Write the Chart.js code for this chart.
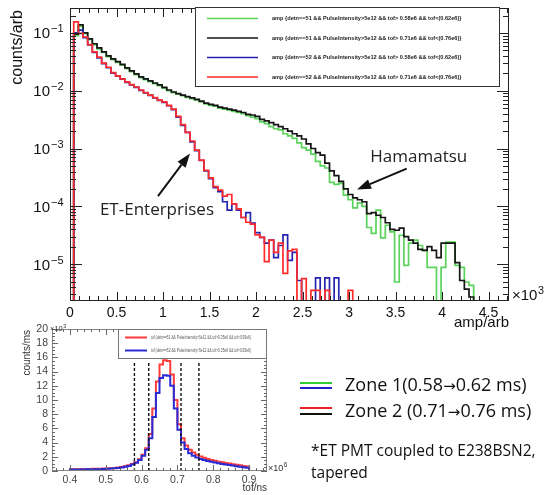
<!DOCTYPE html>
<html>
<head>
<meta charset="utf-8">
<title>PMT amplitude spectra</title>
<script src="https://cdn.jsdelivr.net/npm/chart.js@4.4.1/dist/chart.umd.min.js"></script>
<style>
  html, body { margin: 0; padding: 0; background: #fff; }
  body { position: relative; width: 549px; height: 495px; overflow: hidden; }
  canvas { position: absolute; left: 0; }
  #ampChart { top: 0; }
  #tofChart { top: 318px; }
  .key { position: absolute; left: 300px; width: 32px; height: 0; border-top: 2px solid; }
  .txt { position: absolute; font-family: "Open Sans", sans-serif; color: #111; white-space: nowrap; }
  .zone { left: 345px; font-size: 18px; line-height: 20px; }
  .arr { font-family: "DejaVu Sans", sans-serif; font-size: 15px; }
  .note { left: 311px; top: 439px; font-size: 15.5px; line-height: 22px; }
</style>
</head>
<body>
<canvas id="ampChart" width="549" height="332"></canvas>
<canvas id="tofChart" width="290" height="177"></canvas>
<div class="key" style="top:382px;border-color:#33cc33"></div>
<div class="key" style="top:387px;border-color:#2222cc"></div>
<div class="txt zone" style="top:374px">Zone 1(0.58<span class="arr">→</span>0.62 ms)</div>
<div class="key" style="top:407px;border-color:#ee2222"></div>
<div class="key" style="top:413px;border-color:#111"></div>
<div class="txt zone" style="top:400px">Zone 2 (0.71<span class="arr">→</span>0.76 ms)</div>
<div class="txt note">*ET PMT coupled to E238BSN2,<br>tapered</div>
<script>
// amp histograms, x in units of 10^3 arb (bin edges)
const ampEdges = [0.04,0.09,0.14,0.19,0.24,0.29,0.34,0.39,0.44,0.49,0.54,0.59,0.64,0.69,0.74,0.79,0.84,0.89,0.94,0.99,
  1.04,1.09,1.14,1.19,1.24,1.29,1.34,1.39,1.44,1.49,1.54,1.59,1.64,1.69,1.74,1.79,1.84,1.89,1.94,1.99,
  2.04,2.09,2.14,2.19,2.24,2.29,2.34,2.39,2.44,2.49,2.54,2.59,2.64,2.69,2.74,2.79,2.84,2.89,2.94,2.99,
  3.04,3.09,3.14,3.19,3.24,3.29,3.34,3.39,3.44,3.49,3.54,3.59,3.64,3.69,3.74,3.79,3.84,3.89,3.94,3.99,
  4.04,4.09,4.14,4.19,4.24,4.29,4.34,4.39,4.44,4.49,4.54,4.59,4.64,4.69,4.74];

// detn==51 (Hamamatsu), zone 1 -> green
const hamZone1 = [0.09,0.13,0.097,0.077,0.063,0.053,0.046,0.039,0.0345,0.031,
  0.0278,0.0242,0.0214,0.019,0.0169,0.0156,0.0144,0.0133,0.0123,0.0111,
  0.01,0.0093,0.0087,0.0082,0.0077,0.0073,0.0069,0.0064,0.0059,0.0056,
  0.0054,0.005,0.0048,0.0046,0.0044,0.0042,0.004,0.0037,0.0035,0.0033,
  0.0029,0.0027,0.0024,0.0022,0.0021,0.0018,0.00165,0.0015,0.00125,0.00104,
  0.00094,0.0008,0.0006,0.0005,0.00046,0.00026,0.00024,0.00025,0.000156,0.00013,
  9.4e-5,0.000115,0.0001,4.3e-5,3.4e-5,8.6e-5,2.85e-5,4.7e-5,3.6e-5,4.9e-6,
  3.16e-5,9.5e-6,2.3e-5,2.6e-5,2.1e-5,1.73e-5,8.8e-6,8.8e-6,0,8.8e-6,
  2.4e-5,2.4e-5,9.5e-6,8.8e-6,4.9e-6,4.3e-6,0,0,0,0,0,0,0];
// detn==51 (Hamamatsu), zone 2 -> black
const hamZone2 = [0.095,0.138,0.1,0.079,0.065,0.055,0.047,0.04,0.0355,0.032,
  0.0285,0.0248,0.022,0.0195,0.0173,0.016,0.0148,0.0136,0.0126,0.0114,
  0.0103,0.0095,0.0089,0.0084,0.0079,0.0075,0.0071,0.0066,0.0061,0.0058,
  0.0056,0.0052,0.005,0.0048,0.0046,0.0044,0.0042,0.0039,0.0038,0.0036,
  0.0032,0.003,0.0028,0.0026,0.0024,0.0022,0.002,0.0018,0.00165,0.00146,
  0.0012,0.001,0.00085,0.00077,0.00056,0.00041,0.00034,0.00027,0.0002,0.00016,
  0.00014,0.00013,0.00012,7.5e-5,7.8e-5,7.0e-5,6.4e-5,5.2e-5,4.0e-5,3.85e-5,
  4.2e-5,3.0e-5,2.6e-5,2.3e-5,1.8e-5,1.73e-5,2.0e-5,1.73e-5,1.3e-5,2.3e-5,
  2.3e-5,2.3e-5,1.06e-5,5.2e-6,3.7e-6,2.7e-6,0,0,0,0,0,0,0];
// detn==52 (ET Enterprises), zone 1 -> blue
const etZone1 = [0.1,0.112,0.083,0.062,0.046,0.037,0.0295,0.025,0.0202,0.0178,
  0.0158,0.014,0.0126,0.0114,0.0101,0.0092,0.0083,0.0075,0.0068,0.0063,
  0.0055,0.0047,0.0035,0.0025,0.0019,0.0013,0.00092,0.00062,0.00041,0.0003,
  0.00021,0.00018,0.00012,8.6e-5,0.00011,8.6e-5,6.4e-5,7.8e-5,5.1e-5,3.5e-5,
  2.9e-5,2.3e-5,2.6e-5,1.3e-5,2.1e-5,3.2e-5,1.16e-5,1.6e-5,5.2e-6,0,
  0,0,5.8e-6,0,5.8e-6,0,5.8e-6,0];
// detn==52 (ET Enterprises), zone 2 -> red
const etZone2 = [0.155,0.098,0.085,0.063,0.047,0.038,0.03,0.0255,0.0205,0.018,
  0.016,0.0142,0.0128,0.0116,0.0103,0.0093,0.0084,0.0076,0.0069,0.0064,
  0.0056,0.0048,0.0036,0.0026,0.0019,0.00135,0.00094,0.00063,0.00042,0.00031,
  0.00022,0.00019,0.00015,0.00016,0.00011,9e-5,6.4e-5,5.3e-5,4.9e-5,3.2e-5,
  2.9e-5,1.1e-5,2.6e-5,1.6e-5,2.3e-5,6.9e-6,1.7e-5,1.8e-5,0,5.6e-6,
  0,3.5e-6,3.5e-6,0,3.5e-6,0,0,0,0,3.5e-6,
  0,0,0,0,0];

const ampTicks = [0, 0.5, 1, 1.5, 2, 2.5, 3, 3.5, 4, 4.5];
const ampDecades = [-5, -4, -3, -2, -1];
const AMP_MIN = 2.3e-6, AMP_MAX = 0.27;
const ampLegend = [
  'amp {detn==51 && PulseIntensity>5e12 && tof> 0.58e6 && tof<(0.62e6)}',
  'amp {detn==51 && PulseIntensity>5e12 && tof> 0.71e6 && tof<(0.76e6)}',
  'amp {detn==52 && PulseIntensity>5e12 && tof> 0.58e6 && tof<(0.62e6)}',
  'amp {detn==52 && PulseIntensity>5e12 && tof> 0.71e6 && tof<(0.76e6)}'
];
const ampNotes = [
  { text: 'ET-Enterprises', x: 0.935, y: 8.5e-5, from: [0.946, 1.5e-4], to: [1.29, 8.2e-4] },
  { text: 'Hamamatsu', x: 3.75, y: 7.0e-4, from: [3.62, 4.5e-4], to: [3.086, 1.95e-4] }
];

// tof histograms, x in units of 10^6 ns, y in units of 10^3 counts/ms
const tofEdges = [0.35,0.40,0.41,0.42,0.43,0.44,0.45,0.46,0.47,0.48,0.49,
  0.50,0.51,0.52,0.53,0.54,0.55,0.56,0.57,0.58,0.59,
  0.60,0.61,0.62,0.63,0.64,0.65,0.66,0.67,0.68,0.69,
  0.70,0.71,0.72,0.73,0.74,0.75,0.76,0.77,0.78,0.79,
  0.80,0.81,0.82,0.83,0.84,0.85,0.86,0.87,0.88,0.89,0.90,0.95];
const tofDet51 = [0, 0.25,0.25,0.26,0.27,0.28,0.29,0.3,0.31,0.32,0.34,
  0.36,0.39,0.43,0.5,0.58,0.68,0.8,0.98,1.25,1.65,
  2.3,3.2,5.2,8.8,12.6,15.0,15.6,15.5,13.6,10.0,
  6.6,4.6,3.6,3.0,2.6,2.3,2.05,1.85,1.7,1.56,
  1.44,1.32,1.22,1.12,1.04,0.96,0.88,0.8,0.72,0.65, 0];
const tofDet52 = [0, 0.2,0.2,0.21,0.22,0.23,0.24,0.25,0.26,0.27,0.29,
  0.31,0.34,0.38,0.43,0.5,0.6,0.72,0.9,1.15,1.55,
  2.15,3.0,4.6,7.6,11.0,13.1,13.5,13.4,12.0,8.8,
  5.8,4.0,3.1,2.5,2.15,1.9,1.7,1.55,1.42,1.3,
  1.2,1.1,1.0,0.92,0.84,0.76,0.68,0.6,0.52,0.45, 0];
const tofTicks = [0.4, 0.5, 0.6, 0.7, 0.8, 0.9];
const countTicks = [0, 2, 4, 6, 8, 10, 12, 14, 16, 18, 20];
const zoneCuts = [0.58, 0.62, 0.71, 0.76];
const cutHeight = 15.4;
const tofLegend = [
  'tof {detn==51 && PulseIntensity>5e12 && tof>0.35e6 && tof<0.95e6}',
  'tof {detn==52 && PulseIntensity>5e12 && tof>0.35e6 && tof<0.95e6}'
];

const SANS = '"Liberation Sans", Arial, sans-serif';

function histPoints(edges, counts, floor) {
  const pts = [{ x: edges[0], y: floor }];
  counts.forEach((c, i) => pts.push({ x: edges[i], y: c > 0 ? c : floor }));
  const last = counts[counts.length - 1];
  pts.push({ x: edges[counts.length], y: last > 0 ? last : floor });
  return pts;
}

function seg(ctx, x0, y0, x1, y1) {
  ctx.beginPath(); ctx.moveTo(x0, y0); ctx.lineTo(x1, y1); ctx.stroke();
}

function arrow(ctx, x0, y0, x1, y1) {
  const ang = Math.atan2(y1 - y0, x1 - x0), head = 14, half = 5;
  const bx = x1 - head * Math.cos(ang), by = y1 - head * Math.sin(ang);
  seg(ctx, x0, y0, bx, by);
  ctx.beginPath();
  ctx.moveTo(x1, y1);
  ctx.lineTo(bx + half * Math.sin(ang), by - half * Math.cos(ang));
  ctx.lineTo(bx - half * Math.sin(ang), by + half * Math.cos(ang));
  ctx.closePath(); ctx.fill();
}

// "10" with a raised exponent, like ROOT prints it
function powerText(ctx, base, exp, x, y, size, align) {
  ctx.font = size + 'px ' + SANS;
  const wb = ctx.measureText(base).width;
  ctx.font = (size * 0.72) + 'px ' + SANS;
  const we = ctx.measureText(exp).width;
  let x0 = align === 'right' ? x - wb : x;
  ctx.textAlign = 'left';
  ctx.font = size + 'px ' + SANS;
  ctx.fillText(base, x0, y);
  ctx.font = (size * 0.72) + 'px ' + SANS;
  ctx.fillText(exp, x0 + wb + 0.5, y - size * 0.42);
  return wb + we;
}

const ampDecor = {
  id: 'ampDecor',
  afterDraw(chart) {
    const { ctx, chartArea: a, scales: { x, y } } = chart;
    ctx.save();
    ctx.strokeStyle = '#222'; ctx.fillStyle = '#111'; ctx.lineWidth = 1;
    ctx.strokeRect(a.left + 0.5, a.top + 0.5, a.right - a.left - 1, a.bottom - a.top - 1);

    // x tick marks, inside the frame
    for (let i = 0; i <= 47; i++) {
      const px = Math.round(x.getPixelForValue(i / 10)) + 0.5;
      if (px > a.right) break;
      const len = i % 5 === 0 ? 9 : 5;
      seg(ctx, px, a.bottom, px, a.bottom - len);
      seg(ctx, px, a.top, px, a.top + len);
    }
    // y tick marks, log spaced
    for (let e = -6; e <= -1; e++) {
      for (let m = 1; m <= 9; m++) {
        const v = m * Math.pow(10, e);
        if (v < AMP_MIN || v > AMP_MAX) continue;
        const py = Math.round(y.getPixelForValue(v)) + 0.5;
        const len = m === 1 ? 12 : 6;
        seg(ctx, a.left, py, a.left + len, py);
        seg(ctx, a.right, py, a.right - len, py);
      }
    }
    // y labels 10^n
    ctx.textBaseline = 'alphabetic';
    ampDecades.forEach(e => {
      const py = y.getPixelForValue(Math.pow(10, e));
      ctx.font = '15px ' + SANS; ctx.textAlign = 'right';
      ctx.fillText('10', 50, py + 5.5);
      ctx.font = '11px ' + SANS; ctx.textAlign = 'left';
      ctx.fillText('\u2212' + (-e), 51, py - 0.5);
    });
    // x multiplier and axis titles
    powerText(ctx, '\u00d710', '3', a.right + 3, a.bottom - 1, 15, 'left');
    ctx.font = '15px ' + SANS; ctx.textAlign = 'right';
    ctx.fillText('amp/arb', a.right, a.bottom + 26);
    ctx.save();
    ctx.translate(18, a.top + 2);
    ctx.rotate(-Math.PI / 2);
    ctx.font = '16px ' + SANS; ctx.textAlign = 'right'; ctx.textBaseline = 'middle';
    ctx.fillText('counts/arb', 0, 0);
    ctx.restore();

    // legend box
    const lx = 195.5, ly = a.top - 0.5, lw = 304, lh = 79;
    ctx.fillStyle = '#fff'; ctx.fillRect(lx, ly, lw, lh);
    ctx.strokeStyle = '#333'; ctx.strokeRect(lx, ly, lw, lh);
    ctx.font = 'bold 5.6px ' + SANS; ctx.textAlign = 'left'; ctx.textBaseline = 'middle';
    chart.data.datasets.forEach((ds, i) => {
      const ry = ly + 11 + i * 19.5;
      ctx.strokeStyle = ds.borderColor; ctx.lineWidth = 1.6;
      seg(ctx, 207, ry, 258, ry);
      ctx.fillStyle = '#222';
      ctx.fillText(ampLegend[i], 272, ry, 211);
    });

    // annotations
    ctx.strokeStyle = '#111'; ctx.fillStyle = '#111'; ctx.lineWidth = 2;
    ampNotes.forEach(n => {
      arrow(ctx, x.getPixelForValue(n.from[0]), y.getPixelForValue(n.from[1]),
                 x.getPixelForValue(n.to[0]), y.getPixelForValue(n.to[1]));
      ctx.font = '17px "Open Sans", sans-serif'; ctx.textAlign = 'center'; ctx.textBaseline = 'middle';
      ctx.fillStyle = '#222';
      ctx.fillText(n.text, x.getPixelForValue(n.x), y.getPixelForValue(n.y));
      ctx.fillStyle = '#111';
    });
    ctx.restore();
  }
};

const tofDecor = {
  id: 'tofDecor',
  afterDraw(chart) {
    const { ctx, chartArea: a, scales: { x, y } } = chart;
    ctx.save();
    ctx.strokeStyle = '#888'; ctx.fillStyle = '#333'; ctx.lineWidth = 1;
    ctx.strokeRect(a.left + 0.5, a.top + 0.5, a.right - a.left - 1, a.bottom - a.top - 1);
    ctx.strokeStyle = '#666';
    for (let i = 0; i <= 40; i++) {
      const py = Math.round(y.getPixelForValue(i * 0.5)) + 0.5;
      const len = i % 4 === 0 ? 6 : 3;
      seg(ctx, a.left, py, a.left + len, py);
      seg(ctx, a.right, py, a.right - len, py);
    }
    for (let i = 36; i <= 94; i += 2) {
      const px = Math.round(x.getPixelForValue(i / 100)) + 0.5;
      const len = i % 10 === 0 ? 6 : 3;
      seg(ctx, px, a.bottom, px, a.bottom - len);
      seg(ctx, px, a.top, px, a.top + len);
    }
    ctx.textBaseline = 'alphabetic';
    powerText(ctx, '\u00d710', '3', a.left - 2, a.top + 2, 7.5, 'left');
    powerText(ctx, '\u00d710', '6', a.right + 1, a.bottom, 9, 'left');
    ctx.font = '10px ' + SANS; ctx.textAlign = 'right';
    ctx.fillText('tof/ns', a.right, a.bottom + 20);
    ctx.save();
    ctx.translate(27, a.top + 1);
    ctx.rotate(-Math.PI / 2);
    ctx.font = '10px ' + SANS; ctx.textAlign = 'right'; ctx.textBaseline = 'middle';
    ctx.fillText('counts/ms', 0, 0);
    ctx.restore();

    // legend box
    const lx = 118.5, ly = a.top + 0.5, lw = a.right - 0.5 - lx, lh = 29;
    ctx.fillStyle = '#fff'; ctx.fillRect(lx, ly, lw, lh);
    ctx.strokeStyle = '#777'; ctx.strokeRect(lx, ly, lw, lh);
    ctx.font = '4.5px ' + SANS; ctx.textAlign = 'left'; ctx.textBaseline = 'middle';
    [0, 1].forEach(i => {
      const ds = chart.data.datasets[i];
      const ry = ly + 8 + i * 13;
      ctx.strokeStyle = ds.borderColor; ctx.lineWidth = 2;
      seg(ctx, 125, ry, 147, ry);
      ctx.fillStyle = '#555';
      ctx.fillText(tofLegend[i], 151, ry, 100);
    });
    ctx.restore();
  }
};

const stepStyle = { borderWidth: 1.7, pointRadius: 0, stepped: 'before', fill: false, tension: 0 };

new Chart(document.getElementById('ampChart'), {
  type: 'line',
  data: {
    datasets: [
      { label: ampLegend[0], data: histPoints(ampEdges, hamZone1, AMP_MIN), borderColor: '#5ad35a', order: 3 },
      { label: ampLegend[1], data: histPoints(ampEdges, hamZone2, AMP_MIN), borderColor: '#151515', order: 2 },
      { label: ampLegend[2], data: histPoints(ampEdges, etZone1, AMP_MIN), borderColor: '#2424b0', order: 1 },
      { label: ampLegend[3], data: histPoints(ampEdges, etZone2, AMP_MIN), borderColor: '#ff2a2a', order: 0 }
    ].map(d => Object.assign({}, stepStyle, d))
  },
  options: {
    responsive: false, animation: false, devicePixelRatio: 1, events: [],
    layout: { padding: { top: 8, right: 40, left: 0, bottom: 0 } },
    plugins: { legend: { display: false }, tooltip: { enabled: false } },
    scales: {
      x: {
        type: 'linear', min: 0, max: 4.72,
        grid: { display: false, drawTicks: false }, border: { display: false },
        afterBuildTicks: s => { s.ticks = ampTicks.map(v => ({ value: v })); },
        afterFit: s => { s.height = 31; },
        ticks: { font: { family: SANS, size: 14 }, color: '#111', padding: 4, maxRotation: 0, autoSkip: false,
                 callback: v => String(v) }
      },
      y: {
        type: 'logarithmic', min: AMP_MIN, max: AMP_MAX,
        grid: { display: false }, border: { display: false }, ticks: { display: false },
        afterFit: s => { s.width = 70; }
      }
    }
  },
  plugins: [ampDecor]
});

new Chart(document.getElementById('tofChart'), {
  type: 'line',
  data: {
    datasets: [
      Object.assign({}, stepStyle, { label: tofLegend[0], data: histPoints(tofEdges, tofDet51, 0), borderColor: '#ff3b3b', borderWidth: 2, order: 2 }),
      Object.assign({}, stepStyle, { label: tofLegend[1], data: histPoints(tofEdges, tofDet52, 0), borderColor: '#2b2bd6', borderWidth: 2, order: 1 })
    ].concat(zoneCuts.map(c => ({
      label: 'cut ' + c, data: [{ x: c, y: 0 }, { x: c, y: cutHeight }],
      borderColor: '#111', borderWidth: 1.4, borderDash: [3, 2], pointRadius: 0, order: 0
    })))
  },
  options: {
    responsive: false, animation: false, devicePixelRatio: 1, events: [],
    layout: { padding: { top: 11, right: 23, left: 0, bottom: 0 } },
    plugins: { legend: { display: false }, tooltip: { enabled: false } },
    scales: {
      x: {
        type: 'linear', min: 0.35, max: 0.95,
        grid: { display: false, drawTicks: false }, border: { display: false },
        afterBuildTicks: s => { s.ticks = tofTicks.map(v => ({ value: v })); },
        afterFit: s => { s.height = 24; },
        ticks: { font: { family: SANS, size: 10.5 }, color: '#444', padding: 3, maxRotation: 0, autoSkip: false,
                 callback: v => String(v) }
      },
      y: {
        type: 'linear', min: 0, max: 20,
        grid: { display: false, drawTicks: false }, border: { display: false },
        afterBuildTicks: s => { s.ticks = countTicks.map(v => ({ value: v })); },
        afterFit: s => { s.width = 52; },
        ticks: { font: { family: SANS, size: 10.5 }, color: '#444', padding: 4, autoSkip: false }
      }
    }
  },
  plugins: [tofDecor]
});
</script>
</body>
</html>
